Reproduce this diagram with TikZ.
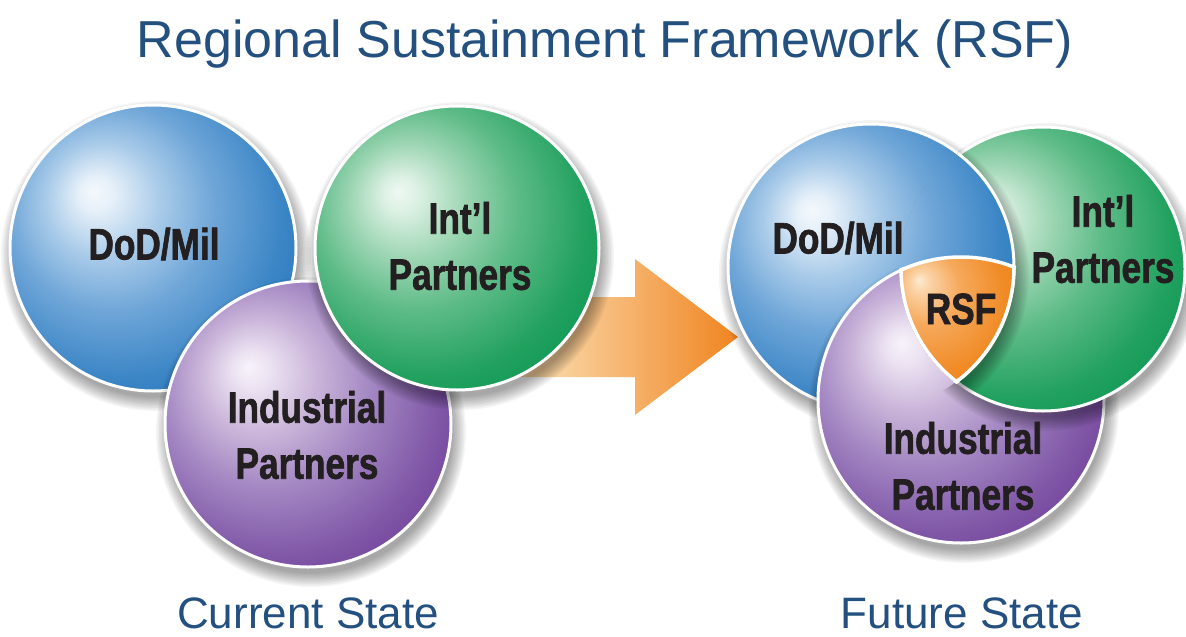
\documentclass[tikz,border=0pt]{standalone}
\usepackage{fontspec}
\setmainfont{Liberation Sans}
\newfontfamily\condfont[FakeStretch=0.8, BoldFeatures={FakeBold=1.5}]{Liberation Sans}

\definecolor{txt}{HTML}{231F20}
\definecolor{ttl}{HTML}{23507F}
% blue
\definecolor{bA}{HTML}{F4F8FC}\definecolor{bB}{HTML}{E6F0F9}\definecolor{bC}{HTML}{A9CBE9}
\definecolor{bD}{HTML}{6FA6D8}\definecolor{bE}{HTML}{3C86C6}\definecolor{bF}{HTML}{1E6DB5}
% green
\definecolor{gA}{HTML}{EEF8F1}\definecolor{gB}{HTML}{DDF1E4}\definecolor{gC}{HTML}{9ED6B4}
\definecolor{gD}{HTML}{5DBB87}\definecolor{gE}{HTML}{22A15F}\definecolor{gF}{HTML}{00904A}
% purple
\definecolor{pA}{HTML}{F7F3FA}\definecolor{pB}{HTML}{EDE4F3}\definecolor{pC}{HTML}{CBB6DA}
\definecolor{pD}{HTML}{A488C3}\definecolor{pE}{HTML}{8159A8}\definecolor{pF}{HTML}{652C8F}
% orange
\definecolor{oA}{HTML}{FDEBD3}\definecolor{oB}{HTML}{FBD3A6}\definecolor{oC}{HTML}{F6A95C}
\definecolor{oD}{HTML}{F08A24}\definecolor{oE}{HTML}{EE7F1A}
% arrow
\definecolor{aL}{HTML}{FAD8A6}\definecolor{aM}{HTML}{F9D29E}\definecolor{aR}{HTML}{F08420}

\pgfdeclareradialshading{blueball}{\pgfpoint{-10.5bp}{10bp}}{color(0bp)=(bA); color(3bp)=(bB); color(10bp)=(bC); color(18bp)=(bD); color(28bp)=(bE); color(40bp)=(bF); color(60bp)=(bF)}
\pgfdeclareradialshading{greenball}{\pgfpoint{-10.5bp}{10bp}}{color(0bp)=(gA); color(3bp)=(gB); color(10bp)=(gC); color(18bp)=(gD); color(28bp)=(gE); color(40bp)=(gF); color(60bp)=(gF)}
\pgfdeclareradialshading{purpleball}{\pgfpoint{-10.5bp}{10bp}}{color(0bp)=(pA); color(3bp)=(pB); color(10bp)=(pC); color(18bp)=(pD); color(28bp)=(pE); color(40bp)=(pF); color(60bp)=(pF)}
\pgfdeclareradialshading{orangeball}{\pgfpoint{-16bp}{16.5bp}}{color(0bp)=(oA); color(4bp)=(oB); color(14bp)=(oC); color(30bp)=(oD); color(50bp)=(oE); color(70bp)=(oE)}
\pgfdeclarehorizontalshading{arrowshade}{100bp}{color(0bp)=(aL); color(25bp)=(aL); color(37bp)=(aM); color(75bp)=(aR); color(100bp)=(aR)}

\newcommand\ballshadow[2]{%
  \foreach \k in {1,...,10}{\fill[black,opacity=0.04] ([shift={(3,8)}]#1) circle[radius=#2-3+\k*1.5];}}

\begin{document}
\begin{tikzpicture}[x=1pt,y=-1pt,
  ring/.style={draw=white, line width=3pt},
  redge/.style={draw=white, line width=3.5pt},
  lbl/.style={font=\condfont\bfseries\fontsize{44}{56}\selectfont, text=txt, align=center, inner sep=0pt},
  caption/.style={font=\fontsize{44}{52}\selectfont, text=ttl, inner sep=0pt, anchor=base}]
\useasboundingbox (0,0) rectangle (1186,637);
\fill[white] (0,0) rectangle (1186,637);

% ---------- title ----------
\node[caption, font=\fontsize{52}{60}\selectfont] (title) at (605,57) {Regional Sustainment Framework (RSF)};

% ---------- centres ----------
\coordinate (B1) at (153,248);
\coordinate (G1) at (457,248);
\coordinate (P1) at (308,424);
\coordinate (B2) at (871,267);
\coordinate (G2) at (1043,269);
\coordinate (P2) at (961,400);

% ---------- current state ----------
\ballshadow{B1}{143}
\shade[shading=blueball] (B1) circle[radius=143];
\draw[ring] (B1) circle[radius=143];

% arrow (under the green circle)
\shade[shading=arrowshade] (500,297) -- (635,297) -- (635,259) -- (738,337) -- (635,415) -- (635,377) -- (500,377) -- cycle;

\ballshadow{P1}{143}
\shade[shading=purpleball] (P1) circle[radius=143];
\draw[ring] (P1) circle[radius=143];

\ballshadow{G1}{142}
\shade[shading=greenball] (G1) circle[radius=142];
\draw[ring] (G1) circle[radius=142];

% ---------- future state ----------
\ballshadow{B2}{143}
\shade[shading=blueball] (B2) circle[radius=143];
\draw[ring] (B2) circle[radius=143];
\ballshadow{P2}{143}
\shade[shading=purpleball] (P2) circle[radius=143];
\draw[ring] (P2) circle[radius=143];
\begin{scope}[even odd rule]
  \clip (0,0) rectangle (1186,637) (B2) circle[radius=143];
  \ballshadow{G2}{142}
\end{scope}
\shade[shading=greenball] (G2) circle[radius=142];
\draw[ring] (G2) circle[radius=142];
% blue lies over green
\begin{scope}
  \clip (G2) circle[radius=143.6];
  \ballshadow{B2}{143}
  \shade[shading=blueball] (B2) circle[radius=143];
  \draw[ring] (B2) circle[radius=143];
\end{scope}
% RSF core
\begin{scope}
  \clip (B2) circle[radius=143];
  \clip (G2) circle[radius=142];
  \clip (P2) circle[radius=143];
  \shade[shading=orangeball] (897,258) rectangle (1016,386);
\end{scope}
\begin{scope}
  \clip (B2) circle[radius=145];
  \clip (G2) circle[radius=144];
  \draw[redge] (P2) circle[radius=143];
\end{scope}
\begin{scope}
  \clip (G2) circle[radius=144];
  \clip (P2) circle[radius=145];
  \draw[redge] (B2) circle[radius=143];
\end{scope}
\begin{scope}
  \clip (B2) circle[radius=145];
  \clip (P2) circle[radius=145];
  \draw[redge] (G2) circle[radius=142];
\end{scope}

% ---------- labels ----------
\node[lbl] (dod1) at (154,244) {DoD/Mil};
\node[lbl] (intl1) at (460,246) {Int’l\\Partners};
\node[lbl] (ind1) at (307,435) {Industrial\\Partners};

\node[lbl] (dod2) at (838,238) {DoD/Mil};
\node[lbl] (intl2) at (1103,239) {Int’l\\Partners};
\node[lbl] (rsf) at (961,309) {RSF};
\node[lbl] (ind2) at (963,466) {Industrial\\Partners};

\node[caption] (cur) at (308,628) {Current State};
\node[caption] (fut) at (962,628) {Future State};
\end{tikzpicture}
\end{document}
